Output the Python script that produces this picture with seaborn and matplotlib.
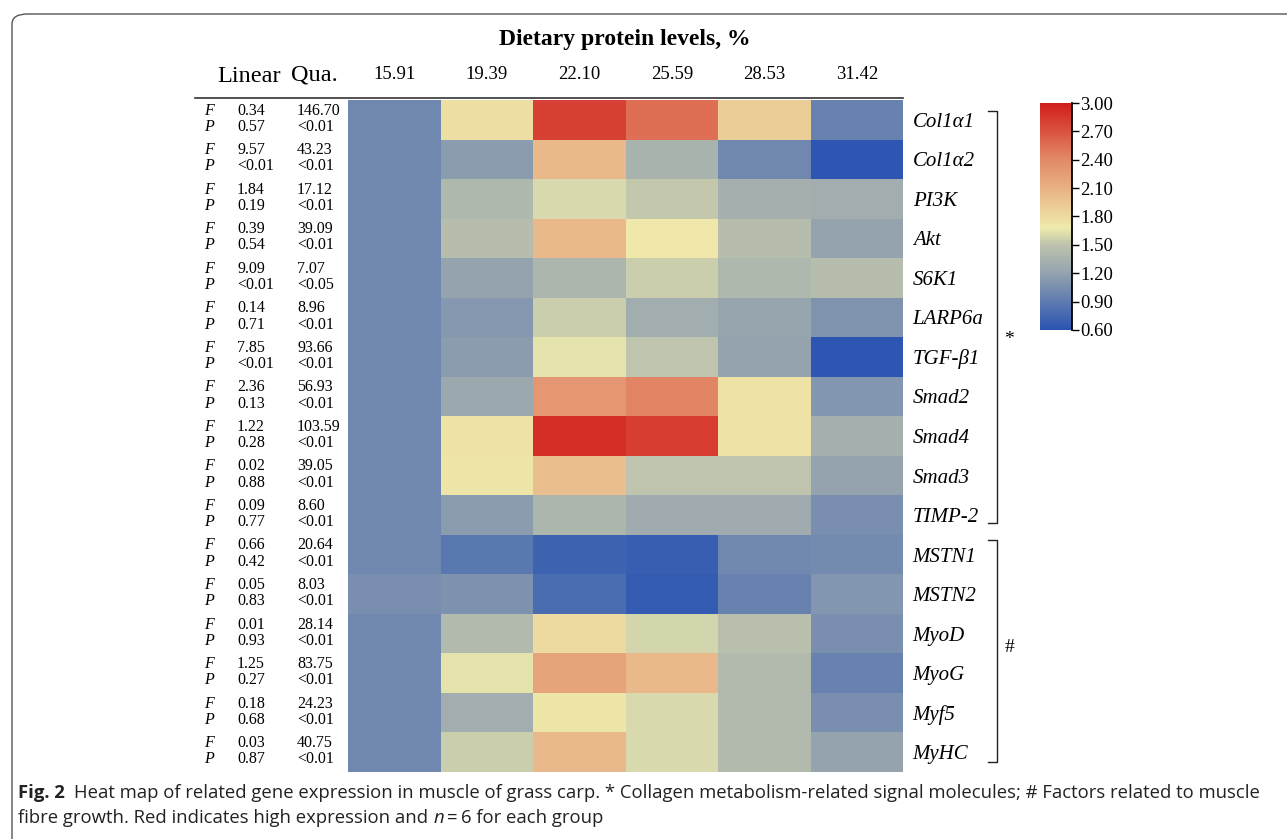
import matplotlib
matplotlib.use("Agg")
import matplotlib.pyplot as plt
import seaborn as sns
import numpy as np
import pandas as pd
from matplotlib.colors import LinearSegmentedColormap
from matplotlib.patches import FancyBboxPatch
from matplotlib.lines import Line2D
from matplotlib.transforms import blended_transform_factory

# protein levels (columns) and genes (rows)
levels = ["15.91", "19.39", "22.10", "25.59", "28.53", "31.42"]
genes = ["Col1α1", "Col1α2", "PI3K", "Akt", "S6K1", "LARP6a", "TGF-β1", "Smad2",
         "Smad4", "Smad3", "TIMP-2", "MSTN1", "MSTN2", "MyoD", "MyoG", "Myf5", "MyHC"]

# relative expression
expr = [
    [1.00, 1.78, 2.80, 2.55, 1.90, 0.95],
    [1.00, 1.15, 2.05, 1.35, 1.00, 0.62],
    [1.00, 1.40, 1.60, 1.52, 1.32, 1.30],
    [1.00, 1.45, 2.05, 1.70, 1.45, 1.20],
    [1.00, 1.20, 1.38, 1.55, 1.40, 1.45],
    [1.00, 1.12, 1.55, 1.30, 1.22, 1.08],
    [1.00, 1.15, 1.65, 1.50, 1.20, 0.62],
    [1.00, 1.25, 2.30, 2.42, 1.75, 1.10],
    [1.00, 1.75, 2.90, 2.82, 1.75, 1.33],
    [1.00, 1.72, 2.00, 1.50, 1.50, 1.20],
    [1.00, 1.15, 1.38, 1.28, 1.28, 1.05],
    [1.00, 0.88, 0.72, 0.68, 1.00, 1.02],
    [1.05, 1.07, 0.78, 0.66, 0.95, 1.10],
    [1.00, 1.42, 1.80, 1.58, 1.47, 1.05],
    [1.00, 1.65, 2.20, 2.05, 1.42, 0.95],
    [1.00, 1.30, 1.72, 1.60, 1.42, 1.05],
    [1.00, 1.55, 2.05, 1.60, 1.42, 1.20],
]

# regression statistics
lin_F = ["0.34", "9.57", "1.84", "0.39", "9.09", "0.14", "7.85", "2.36", "1.22",
         "0.02", "0.09", "0.66", "0.05", "0.01", "1.25", "0.18", "0.03"]
lin_P = ["0.57", "<0.01", "0.19", "0.54", "<0.01", "0.71", "<0.01", "0.13", "0.28",
         "0.88", "0.77", "0.42", "0.83", "0.93", "0.27", "0.68", "0.87"]
qua_F = ["146.70", "43.23", "17.12", "39.09", "7.07", "8.96", "93.66", "56.93", "103.59",
         "39.05", "8.60", "20.64", "8.03", "28.14", "83.75", "24.23", "40.75"]
qua_P = ["<0.01", "<0.01", "<0.01", "<0.01", "<0.05", "<0.01", "<0.01", "<0.01", "<0.01",
         "<0.01", "<0.01", "<0.01", "<0.01", "<0.01", "<0.01", "<0.01", "<0.01"]

cbar_ticks = [0.60, 0.90, 1.20, 1.50, 1.80, 2.10, 2.40, 2.70, 3.00]

W, H = 1287, 839
SERIF = "Liberation Serif"

cmap = LinearSegmentedColormap.from_list("expr", [
    (0.0, "#2a54b2"), (0.25, "#94a3ae"), (0.375, "#bdc3ad"), (0.45, "#efebac"),
    (0.625, "#e8b186"), (0.75, "#e28a68"), (1.0, "#d21c1c")])

df = pd.DataFrame(expr, index=genes, columns=levels)

fig = plt.figure(figsize=(W / 100, H / 100), dpi=100)

def fx(x):
    return x / W

def fy(y):
    return 1 - y / H

# page frame
frame = FancyBboxPatch((fx(12), fy(860)), fx(1400), fy(14) - fy(860),
                       boxstyle="round,pad=0,rounding_size=0.012",
                       transform=fig.transFigure, fill=False, edgecolor="#555555",
                       linewidth=1.0, clip_on=False)
fig.patches.append(frame)

ax = fig.add_axes([fx(348), fy(772), fx(903) - fx(348), fy(100) - fy(772)])
cax = fig.add_axes([fx(1040), fy(330), fx(1072) - fx(1040), fy(103) - fy(330)])

sns.heatmap(df, ax=ax, cmap=cmap, vmin=0.6, vmax=3.0, cbar_ax=cax,
            cbar_kws={"ticks": cbar_ticks})

ax.xaxis.tick_top()
ax.set_xticklabels(levels, rotation=0, fontsize=13.5, family=SERIF)
ax.tick_params(axis="x", length=0, pad=12)
ax.yaxis.tick_right()
ax.set_yticklabels(genes, rotation=0, fontsize=15, family=SERIF, style="italic")
ax.tick_params(axis="y", length=0, pad=7)
for lab in ax.get_yticklabels():
    lab.set_horizontalalignment("left")
ax.set_xlabel("")
ax.set_ylabel("")

cax.tick_params(length=5, width=1, color="black", labelsize=13.5, direction="out")
cax.set_yticklabels([f"{t:.2f}" for t in cbar_ticks], family=SERIF)
cax.yaxis.set_tick_params(pad=1)
for sp in cax.spines.values():
    sp.set_visible(False)
cax.plot([1, 1], [0.6, 3.0], color="black", linewidth=1.3,
         transform=blended_transform_factory(cax.transAxes, cax.transData), clip_on=False)

# stats block
tr = blended_transform_factory(fig.transFigure, ax.transData)
for i in range(len(genes)):
    yF = i + 0.27
    yP = i + 0.68
    ax.text(fx(204), yF, "F", transform=tr, fontsize=11.5, family=SERIF, style="italic", va="center")
    ax.text(fx(204), yP, "P", transform=tr, fontsize=11.5, family=SERIF, style="italic", va="center")
    ax.text(fx(237), yF, lin_F[i], transform=tr, fontsize=11.5, family=SERIF, va="center")
    ax.text(fx(237), yP, lin_P[i], transform=tr, fontsize=11.5, family=SERIF, va="center")
    ax.text(fx(297), yF, qua_F[i], transform=tr, fontsize=11.5, family=SERIF, va="center")
    ax.text(fx(297), yP, qua_P[i], transform=tr, fontsize=11.5, family=SERIF, va="center")

# header
fig.text(fx(249), fy(76), "Linear", fontsize=17.5, family=SERIF, ha="center", va="center")
fig.text(fx(314), fy(75), "Qua.", fontsize=17.5, family=SERIF, ha="center", va="center")
fig.text(fx(625), fy(40), "Dietary protein levels, %", fontsize=17, family=SERIF,
         weight="bold", ha="center", va="center")
fig.lines.append(Line2D([fx(195), fx(903)], [fy(98), fy(98)], transform=fig.transFigure,
                        color="#333333", linewidth=1.2))

# group brackets
def bracket(y0, y1, x=997, tick=9):
    fig.lines.append(Line2D([fx(x - tick), fx(x), fx(x), fx(x - tick)],
                            [fy(y0), fy(y0), fy(y1), fy(y1)],
                            transform=fig.transFigure, color="#222222", linewidth=1.0))

bracket(111, 523)
bracket(540, 762)
fig.text(fx(1009), fy(340), "*", fontsize=14, family=SERIF, ha="center", va="center")
fig.text(fx(1010), fy(648), "#", fontsize=14, family=SERIF, ha="center", va="center")

# caption
cap_font = "Open Sans"
cap_size = 13.3
t1 = fig.text(fx(18), fy(793), "Fig. 2", fontsize=cap_size, family=cap_font, weight="bold",
              va="center", color="#222222")
fig.canvas.draw()
bb = t1.get_window_extent()
fig.text(fx(bb.x1 + 9), fy(793),
         "Heat map of related gene expression in muscle of grass carp. * Collagen "
         "metabolism-related signal molecules; # Factors related to muscle",
         fontsize=cap_size, family=cap_font, va="center", color="#222222")
t3 = fig.text(fx(18), fy(818), "fibre growth. Red indicates high expression and ",
              fontsize=cap_size, family=cap_font, va="center", color="#222222")
fig.canvas.draw()
bb3 = t3.get_window_extent()
t4 = fig.text(fx(bb3.x1 + 1), fy(818), "n", fontsize=cap_size, family=cap_font, style="italic",
              va="center", color="#222222")
fig.canvas.draw()
bb4 = t4.get_window_extent()
t5 = fig.text(fx(bb4.x1 + 3), fy(818), "=", fontsize=cap_size, family=cap_font,
              va="center", color="#222222")
fig.canvas.draw()
bb5 = t5.get_window_extent()
fig.text(fx(bb5.x1 + 3), fy(818), "6 for each group", fontsize=cap_size, family=cap_font,
         va="center", color="#222222")

fig.savefig("out.png", dpi=100)
